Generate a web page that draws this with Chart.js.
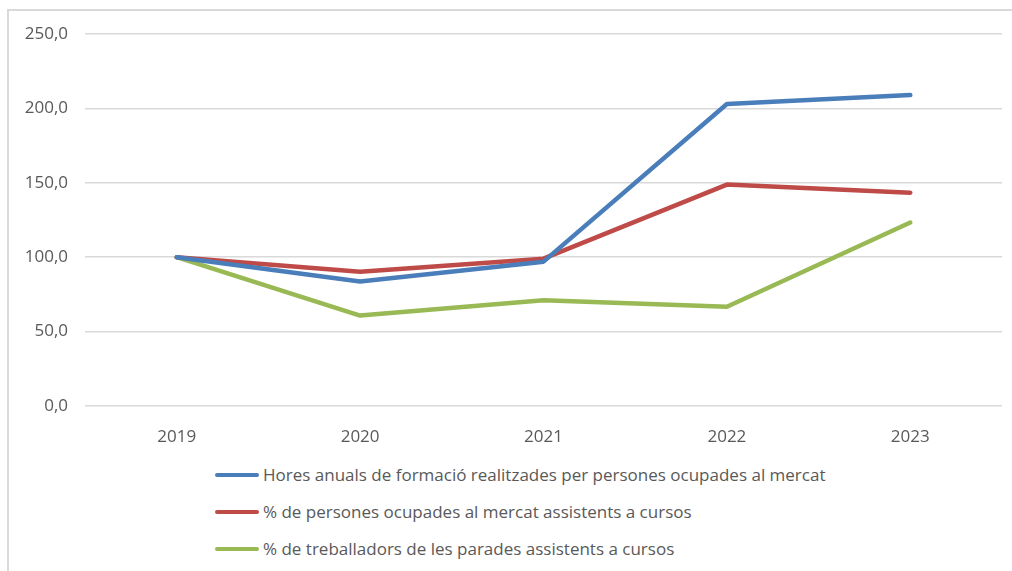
<!DOCTYPE html>
<html>
<head>
<meta charset="utf-8">
<script src="https://cdn.jsdelivr.net/npm/chart.js@4/dist/chart.umd.min.js"></script>
<style>
  body { margin: 0; background: #fff; font-family: "Open Sans", sans-serif; }
  #wrap { position: relative; width: 1012px; height: 571px; overflow: hidden; }
  #frame { position: absolute; left: 7px; top: 9px; width: 1100px; height: 700px;
           border-left: 2px solid #d9d9d9; border-top: 2px solid #d9d9d9; }
  #chart-box { position: absolute; left: 0; top: 0; width: 1012px; height: 450px; }
  .leg { position: absolute; left: 215px; height: 24px; font-size: 17px; color: #595959;
         white-space: nowrap; line-height: 24px; }
  .leg span.sw { position: absolute; left: 0; top: 10px; width: 44px; height: 4px; border-radius: 2px; }
  .leg span.tx { position: absolute; left: 48px; top: 0; }
</style>
</head>
<body>
<div id="wrap">
  <div id="frame"></div>
  <div id="chart-box"><canvas id="chart" width="1012" height="450"></canvas></div>
  <div id="legend"></div>
</div>
<script>
// Data
const years = ['2019', '2020', '2021', '2022', '2023'];
const hoursData = [100, 83.6, 97.0, 203.0, 209.0];
const peopleData = [100, 90.3, 99.0, 148.8, 143.3];
const workersData = [100, 60.8, 71.0, 66.7, 123.3];

const seriesLabels = [
    'Hores anuals de formació realitzades per persones ocupades al mercat',
    '% de persones ocupades al mercat assistents a cursos',
    '% de treballadors de les parades assistents a cursos'
];
const seriesColors = ['#4a7ebb', '#be4b48', '#98b954'];

const fmt = v => v.toFixed(1).replace('.', ',');

const datasets = [hoursData, peopleData, workersData].map((d, i) => ({
    label: seriesLabels[i],
    data: d,
    borderColor: seriesColors[i],
    backgroundColor: seriesColors[i],
    borderWidth: 4.5,
    borderCapStyle: 'round',
    borderJoinStyle: 'round',
    pointRadius: 0,
    tension: 0
}));

new Chart(document.getElementById('chart').getContext('2d'), {
    type: 'line',
    data: { labels: years, datasets: datasets },
    options: {
        responsive: false,
        animation: false,
        layout: { padding: { top: 34, right: 10, left: 0, bottom: 0 } },
        plugins: { legend: { display: false }, tooltip: { enabled: false } },
        scales: {
            x: {
                offset: true,
                grid: { display: false },
                border: { display: false },
                ticks: { color: '#595959', font: { family: 'Open Sans', size: 17 }, padding: 13 },
                afterFit: s => { s.height = 44; }
            },
            y: {
                min: 0,
                max: 250,
                ticks: {
                    stepSize: 50,
                    color: '#595959',
                    font: { family: 'Open Sans', size: 17 },
                    padding: 17,
                    callback: v => fmt(v)
                },
                grid: { color: '#d9d9d9', lineWidth: 1.5, drawTicks: false },
                border: { display: false },
                afterFit: s => { s.width = 85; }
            }
        }
    }
});

// Legend
const legend = document.getElementById('legend');
const legendTops = [463, 500, 537];
seriesLabels.forEach((label, i) => {
    const row = document.createElement('div');
    row.className = 'leg';
    row.style.top = legendTops[i] + 'px';
    row.innerHTML = '<span class="sw" style="background:' + seriesColors[i] + '"></span><span class="tx"></span>';
    row.querySelector('.tx').textContent = label;
    legend.appendChild(row);
});
</script>
</body>
</html>
